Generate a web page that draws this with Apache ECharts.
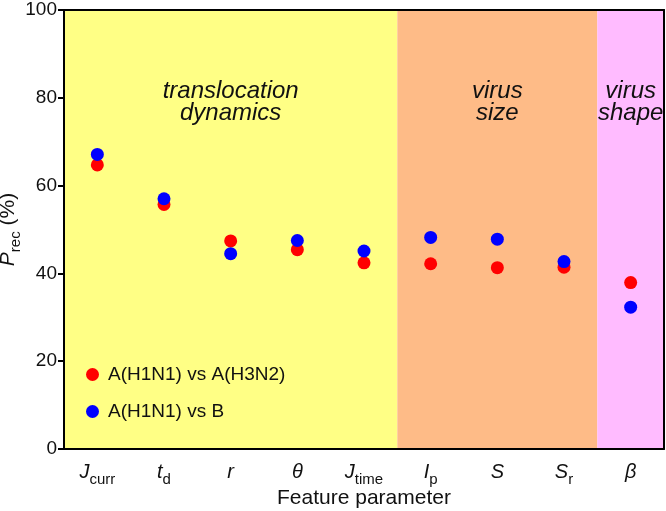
<!DOCTYPE html>
<html>
<head>
<meta charset="utf-8">
<script src="https://cdn.jsdelivr.net/npm/echarts@6/dist/echarts.min.js"></script>
<style>html,body{margin:0;padding:0;background:#fff}#c{width:666px;height:511px}</style>
</head>
<body>
<div id="c"></div>
<script>
const categories = ['Jcurr','td','r','theta','Jtime','Ip','S','Sr','beta'];
const labelRich = {
  Jcurr: '{i|J}{s|curr}', td: '{i|t}{s|d}', r: '{i|r}', theta: '{i|θ}', Jtime: '{i|J}{s|time}',
  Ip: '{i|I}{s|p}', S: '{i|S}', Sr: '{i|S}{s|r}', beta: '{i|β}'
};
const seriesNames = ['A(H1N1) vs A(H3N2)', 'A(H1N1) vs B'];
const h3n2Values = [64.7, 55.7, 47.4, 45.4, 42.4, 42.2, 41.3, 41.4, 37.9];
const bValues = [67.1, 57.0, 44.5, 47.5, 45.1, 48.2, 47.8, 42.7, 32.3];
const yTicks = [0, 20, 40, 60, 80, 100];
const bands = [
  {from: 0, to: 5, text: 'translocation\ndynamics', color: '#FFFF85'},
  {from: 5, to: 8, text: 'virus\nsize', color: '#FEBB87'},
  {from: 8, to: 9, text: 'virus\nshape', color: '#FFBBFF'}
];

const FONT = 'Liberation Sans, Arial, sans-serif';
const chart = echarts.init(document.getElementById('c'));
chart.setOption({
  animation: false,
  textStyle: {fontFamily: FONT},
  grid: {left: 64, right: 2, top: 10, bottom: 62, containLabel: false, outerBoundsMode: 'none'},
  legend: {
    orient: 'vertical', left: 81, top: 360, itemGap: 18,
    itemWidth: 13, itemHeight: 13, icon: 'circle',
    textStyle: {fontSize: 19, color: '#111', fontFamily: FONT, padding: [0,0,0,4]},
    data: seriesNames
  },
  xAxis: [{
    type: 'category', data: categories, boundaryGap: true, z: 5,
    axisLine: {lineStyle: {color: '#000', width: 2}},
    axisTick: {inside: true, length: 7, alignWithLabel: true, lineStyle: {color: '#000', width: 2}},
    axisLabel: {
      margin: 13, color: '#111', interval: 0,
      formatter: v => labelRich[v],
      rich: {
        i: {fontSize: 20, fontStyle: 'italic', fontFamily: FONT, color: '#111', verticalAlign: 'bottom', padding: [0,0,5,0]},
        s: {fontSize: 15, fontFamily: FONT, color: '#111', verticalAlign: 'bottom'}
      }
    },
    name: 'Feature parameter', nameLocation: 'middle', nameGap: 39, nameMoveOverlap: false,
    nameTextStyle: {fontSize: 21, color: '#111', fontFamily: FONT}
  }, {
    type: 'value', min: 0, max: 9, position: 'top', z: 5,
    axisLine: {show: true, onZero: false, lineStyle: {color: '#000', width: 2}},
    axisTick: {show: false}, axisLabel: {show: false}, splitLine: {show: false}
  }],
  yAxis: [{
    type: 'value', min: 0, max: 100, interval: 20, z: 5,
    axisLine: {show: true, lineStyle: {color: '#000', width: 2}},
    axisTick: {show: true, length: 6, lineStyle: {color: '#000', width: 2}},
    axisLabel: {fontSize: 19, color: '#111', margin: 7, formatter: v => yTicks.includes(v) ? String(v) : ''},
    splitLine: {show: false},
    name: '{i|P}{s|rec}{n| (%)}', nameLocation: 'middle', nameGap: 41, nameRotate: 90, nameMoveOverlap: false,
    nameTextStyle: {
      rich: {
        i: {fontSize: 21, fontStyle: 'italic', fontFamily: FONT, color: '#111', verticalAlign: 'bottom', padding: [0,0,4,0]},
        s: {fontSize: 15, fontFamily: FONT, color: '#111', verticalAlign: 'bottom'},
        n: {fontSize: 21, fontFamily: FONT, color: '#111', verticalAlign: 'bottom', padding: [0,0,4,0]}
      }
    }
  }, {
    type: 'value', min: 0, max: 100, position: 'right', z: 5,
    axisLine: {show: true, lineStyle: {color: '#000', width: 2}},
    axisTick: {show: false}, axisLabel: {show: false}, splitLine: {show: false}
  }],
  series: [{
    type: 'line', xAxisIndex: 1, yAxisIndex: 0, data: [[0, -10]], showSymbol: false, silent: true, z: 1,
    lineStyle: {opacity: 0},
    markArea: {
      silent: true,
      data: bands.map(b => [{
        xAxis: b.from, yAxis: 0,
        itemStyle: {color: b.color, opacity: 1},
        label: {show: true, position: 'insideTop', distance: 70, formatter: b.text,
          fontSize: 24, fontStyle: 'italic', fontFamily: FONT, color: '#111', lineHeight: 22, align: 'center'}
      }, {xAxis: b.to, yAxis: 100}])
    }
  }, {
    name: seriesNames[0], type: 'scatter', data: h3n2Values, symbolSize: 13, z: 3,
    itemStyle: {color: '#FF0000', opacity: 1}
  }, {
    name: seriesNames[1], type: 'scatter', data: bValues, symbolSize: 13, z: 4,
    itemStyle: {color: '#0000FF', opacity: 1}
  }]
});
</script>
</body>
</html>
